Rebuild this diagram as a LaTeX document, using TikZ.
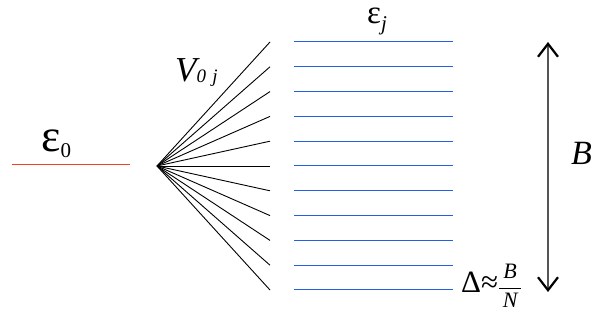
\documentclass[tikz,border=0pt]{standalone}
\usepackage{fontspec}
\setmainfont{Liberation Serif}
\usetikzlibrary{arrows.meta}
\definecolor{lvlRed}{HTML}{F2401E}
\definecolor{lvlBlue}{HTML}{2160E6}
\definecolor{lvlGray}{HTML}{555555}
\newcommand{\lvlsub}[3]{\raisebox{-#1}{\fontsize{#2}{#2}\selectfont #3}}
\tikzset{
  lvl single/.style={draw=lvlRed, line width=1pt},
  lvl band/.style={draw=lvlBlue, line width=1pt},
  lvl fan/.style={draw=black, line width=0.9pt},
  lvl span/.style={draw=lvlGray, line width=1.3pt,
    {Straight Barb[length=13pt,width=20pt,line width=2.2pt,color=black]}-{Straight Barb[length=13pt,width=20pt,line width=2.2pt,color=black]}},
  lvl label/.style={inner sep=0pt, anchor=base west},
}
\begin{document}
\begin{tikzpicture}[x=1pt,y=-1pt]
  \useasboundingbox (0,0) rectangle (592,320);
  % Single level on the left
  \coordinate (s0) at (12,165);
  \coordinate (s1) at (130,165);
  \draw[lvl single] (s0) -- (s1);
  \node[lvl label, font=\fontsize{46}{50}\selectfont] (eps0) at (41,152)
    {ε\lvlsub{6pt}{21}{0}};
  % Couplings fanning out to the band
  \coordinate (apex) at (157,166);
  \foreach \k in {0,...,10} {
    \coordinate (f\k) at (270,{42+24.8*\k});
    \coordinate (l\k) at (294,{42+24.8*\k});
    \coordinate (r\k) at (453,{42+24.8*\k});
    \draw[lvl fan] (apex) -- (f\k);
    \draw[lvl band] (l\k) -- (r\k);
  }
  \node[lvl label, font=\fontsize{33}{36}\selectfont, text height=15pt] (epsj) at (367,24)
    {ε\lvlsub{7pt}{21}{\itshape j}};
  \node[lvl label, font=\fontsize{35}{38}\selectfont\itshape] (vcoup) at (175,82)
    {V\lvlsub{1pt}{19}{0\,\,j}};
  \node[lvl label, font=\fontsize{31}{34}\selectfont] (gap) at (461,293)
    {Δ≈\fontsize{22}{24}\selectfont$\displaystyle\frac{\,\textit{B}\,}{\,\textit{N}\,}$};
  % Bandwidth
  \coordinate (top) at (548,42);
  \coordinate (bot) at (548,292);
  \draw[lvl span] (top) -- (bot);
  \node[lvl label, font=\fontsize{34}{38}\selectfont\itshape] (width) at (571,165) {B};
\end{tikzpicture}
\end{document}
